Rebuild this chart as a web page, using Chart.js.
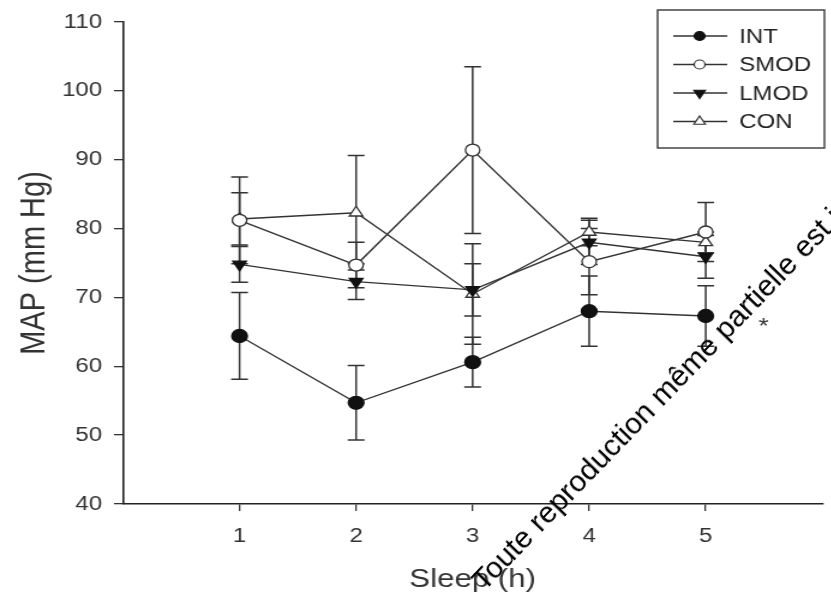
<!DOCTYPE html>
<html lang="en">
<head>
    <meta charset="UTF-8">
    <title>MAP vs Sleep</title>
    <script src="https://cdn.jsdelivr.net/npm/chart.js"></script>
    <style>
        body {
            margin: 0;
            background: #ffffff;
            width: 831px;
            height: 596px;
            overflow: hidden;
            position: relative;
            font-family: 'Liberation Sans', Arial, sans-serif;
        }
        /* the source figure is a bit wider than tall in its lettering, so the canvas is stretched */
        #wrap {
            position: absolute;
            left: 0;
            top: 0;
            width: 693px;
            height: 596px;
            transform: scaleX(1.2);
            transform-origin: 0 0;
        }
        .stamp {
            position: absolute;
            left: 484px;
            top: 592px;
            font-size: 30px;
            line-height: 30px;
            white-space: nowrap;
            color: #000;
            transform-origin: 0 0;
            transform: rotate(-46deg) translateY(-25px);
        }
    </style>
</head>
<body>
    <div id="wrap"><canvas id="mapChart" width="693" height="596"></canvas></div>
    <div class="stamp">Toute reproduction même partielle est interdite</div>
    <script>
        const sleepHours = [1, 2, 3, 4, 5];
        const xTicks = [1, 2, 3, 4, 5];
        const yTicks = [40, 50, 60, 70, 80, 90, 100, 110];

        const intMean  = [64.4, 54.7, 60.6, 68.0, 67.3];
        const intErr   = [6.3, 5.4, 3.6, 5.1, 4.4];
        const smodMean = [81.2, 74.7, 91.4, 75.2, 79.5];
        const smodErr  = [6.3, 3.3, 12.1, 4.8, 4.3];
        const lmodMean = [74.8, 72.3, 71.1, 78.0, 75.9];
        const lmodErr  = [2.6, 2.6, 3.8, 3.2, 3.1];
        const conMean  = [81.4, 82.3, 70.5, 79.5, 78.0];
        const conErr   = [3.8, 8.3, 7.3, 2.0, 1.5];

        const axisColor = '#222';
        const lineColor = '#333';
        const fontFamily = '"Liberation Sans", Arial, sans-serif';

        function series(label, means, errs, style) {
            return Object.assign({
                label: label,
                data: sleepHours.map((h, i) => ({ x: h, y: means[i] })),
                errors: errs,
                borderColor: lineColor,
                borderWidth: 1.4,
                pointBorderWidth: 1.3,
                tension: 0,
                fill: false
            }, style);
        }

        const datasets = [
            series('INT', intMean, intErr, {
                pointStyle: 'circle', pointRadius: 6.5,
                pointBackgroundColor: '#111', pointBorderColor: '#111',
                legendRadius: 4.5
            }),
            series('SMOD', smodMean, smodErr, {
                pointStyle: 'circle', pointRadius: 6,
                pointBackgroundColor: '#fff', pointBorderColor: '#333',
                legendRadius: 4.5
            }),
            series('LMOD', lmodMean, lmodErr, {
                pointStyle: 'triangle', pointRotation: 180, pointRadius: 6.5,
                pointBackgroundColor: '#111', pointBorderColor: '#111',
                legendRadius: 5.5
            }),
            series('CON', conMean, conErr, {
                pointStyle: 'triangle', pointRadius: 6.5,
                pointBackgroundColor: '#fff', pointBorderColor: '#333',
                legendRadius: 5.5
            })
        ];

        // vertical SEM bars with caps, drawn under the markers
        const errorBars = {
            id: 'errorBars',
            beforeDatasetsDraw(chart) {
                const ctx = chart.ctx;
                const yScale = chart.scales.y;
                ctx.save();
                ctx.strokeStyle = '#333';
                ctx.lineWidth = 1.5;
                chart.data.datasets.forEach((ds, di) => {
                    const meta = chart.getDatasetMeta(di);
                    meta.data.forEach((pt, i) => {
                        const v = ds.data[i].y;
                        const e = ds.errors[i];
                        const top = yScale.getPixelForValue(v + e);
                        const bot = yScale.getPixelForValue(v - e);
                        ctx.beginPath();
                        ctx.moveTo(pt.x, top);
                        ctx.lineTo(pt.x, bot);
                        ctx.moveTo(pt.x - 7, top);
                        ctx.lineTo(pt.x + 7, top);
                        ctx.moveTo(pt.x - 7, bot);
                        ctx.lineTo(pt.x + 7, bot);
                        ctx.stroke();
                    });
                });
                ctx.restore();
            }
        };

        // boxed legend in the top right corner, plus the significance mark
        const boxLegend = {
            id: 'boxLegend',
            afterDraw(chart) {
                const ctx = chart.ctx;
                ctx.save();
                ctx.strokeStyle = '#444';
                ctx.lineWidth = 1.5;
                ctx.strokeRect(548, 10, 139, 138);
                chart.data.datasets.forEach((ds, i) => {
                    const y = 36 + i * 28.5;
                    ctx.strokeStyle = lineColor;
                    ctx.lineWidth = 1.4;
                    ctx.beginPath();
                    ctx.moveTo(561, y);
                    ctx.lineTo(606, y);
                    ctx.stroke();
                    ctx.fillStyle = ds.pointBackgroundColor;
                    ctx.strokeStyle = ds.pointBorderColor;
                    ctx.lineWidth = 1.2;
                    Chart.helpers.drawPoint(ctx, {
                        pointStyle: ds.pointStyle,
                        rotation: ds.pointRotation || 0,
                        radius: ds.legendRadius,
                        borderWidth: 1.2
                    }, 583, y);
                    ctx.fillStyle = '#222';
                    ctx.font = '20px ' + fontFamily;
                    ctx.textBaseline = 'middle';
                    ctx.fillText(ds.label, 616, y + 1);
                });

                const xs = chart.scales.x;
                const ys = chart.scales.y;
                ctx.fillStyle = '#333';
                ctx.font = '22px ' + fontFamily;
                ctx.textBaseline = 'alphabetic';
                ctx.fillText('*', xs.getPixelForValue(sleepHours[4]) + 44, ys.getPixelForValue(intMean[4]) + 17);
                ctx.restore();
            }
        };

        new Chart(document.getElementById('mapChart'), {
            type: 'line',
            data: { datasets: datasets },
            options: {
                responsive: false,
                animation: false,
                layout: { padding: { top: 17, right: 0, left: 0, bottom: 0 } },
                plugins: {
                    legend: { display: false },
                    tooltip: { enabled: false }
                },
                scales: {
                    x: {
                        type: 'linear',
                        min: 0,
                        max: 6,
                        afterBuildTicks: (scale) => { scale.ticks = xTicks.map(v => ({ value: v })); },
                        afterFit: (scale) => { scale.height = 92; },
                        border: { display: true, color: axisColor, width: 1.6 },
                        grid: { drawOnChartArea: false, drawTicks: true, tickLength: 7, color: '#333', lineWidth: 1.3 },
                        ticks: {
                            padding: 13,
                            color: '#333',
                            font: { family: fontFamily, size: 20 }
                        },
                        title: {
                            display: true,
                            text: 'Sleep (h)',
                            color: '#333',
                            padding: { top: 0, bottom: 1 },
                            font: { family: fontFamily, size: 26 }
                        }
                    },
                    y: {
                        min: 40,
                        max: 110,
                        afterBuildTicks: (scale) => { scale.ticks = yTicks.map(v => ({ value: v })); },
                        afterFit: (scale) => { scale.width = 102.5; },
                        border: { display: true, color: axisColor, width: 1.6 },
                        grid: { drawOnChartArea: false, drawTicks: true, tickLength: 7.5, color: '#333', lineWidth: 1.3 },
                        ticks: {
                            padding: 10,
                            color: '#333',
                            font: { family: fontFamily, size: 20 }
                        },
                        title: {
                            display: true,
                            text: 'MAP (mm Hg)',
                            color: '#333',
                            padding: { top: 12, bottom: 0 },
                            font: { family: fontFamily, size: 29 }
                        }
                    }
                }
            },
            plugins: [errorBars, boxLegend]
        });
    </script>
</body>
</html>
